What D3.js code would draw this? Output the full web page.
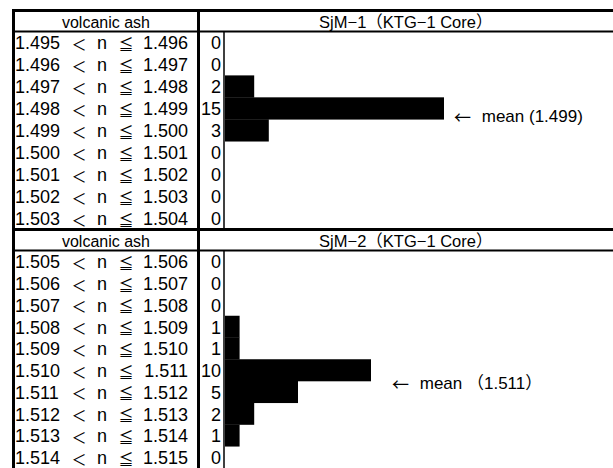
<!DOCTYPE html>
<html>
<head>
<meta charset="utf-8">
<script src="https://cdn.jsdelivr.net/npm/d3@7"></script>
<style>
  body { margin: 0; background: #fff; }
  svg text { font-family: "Liberation Sans", Arial, "Noto Sans CJK JP", sans-serif; fill: #000; }
  .cjk { font-family: "Noto Sans CJK JP", sans-serif; }
</style>
</head>
<body>
<div id="chart"></div>
<script>
var lowerEdges1 = ["1.495", "1.496", "1.497", "1.498", "1.499", "1.500", "1.501", "1.502", "1.503"];
var upperEdges1 = ["1.496", "1.497", "1.498", "1.499", "1.500", "1.501", "1.502", "1.503", "1.504"];
var counts1 = [0, 0, 2, 15, 3, 0, 0, 0, 0];

var lowerEdges2 = ["1.505", "1.506", "1.507", "1.508", "1.509", "1.510", "1.511", "1.512", "1.513", "1.514"];
var upperEdges2 = ["1.506", "1.507", "1.508", "1.509", "1.510", "1.511", "1.512", "1.513", "1.514", "1.515"];
var counts2 = [0, 0, 0, 1, 1, 10, 5, 2, 1, 0];

var titles = ["SjM−1（KTG−1 Core）", "SjM−2（KTG−1 Core）"];
var meanLabels = [" mean (1.499)", " mean （1.511）"];
var meanIndex = [3, 5];

var w = 613, h = 468;
var leftX = 13.5, divX = 198.5, baseX = 224, rightX = 613;

var svg = d3.select("#chart")
    .append("svg")
    .attr("width", w)
    .attr("height", h);

// shared count scale
var xScale = d3.scaleLinear()
    .domain([0, 15])
    .range([225, 444]);

function drawPanel(top, headerH, bottom, lows, ups, counts, title, meanLabel, mi, meanX, meanDy) {
  var rows = d3.range(counts.length);
  var yScale = d3.scaleBand()
      .domain(rows)
      .range([top + headerH, bottom])
      .padding(0);

  var g = svg.append("g");

  // header
  g.append("text")
      .attr("x", (leftX + divX) / 2)
      .attr("y", top + headerH / 2 + 1)
      .attr("text-anchor", "middle")
      .attr("dominant-baseline", "central")
      .style("font-size", "16px")
      .text("volcanic ash");

  g.append("text")
      .attr("x", (divX + rightX) / 2)
      .attr("y", top + headerH / 2 + 1)
      .attr("text-anchor", "middle")
      .attr("dominant-baseline", "central")
      .style("font-size", "16.5px")
      .text(title);

  // bars
  g.selectAll("rect.bar")
      .data(counts)
      .enter()
      .append("rect")
      .attr("class", "bar")
      .attr("x", xScale(0))
      .attr("y", function (d, i) { return yScale(i); })
      .attr("width", function (d) { return xScale(d) - xScale(0); })
      .attr("height", yScale.bandwidth() + 0.3)
      .attr("fill", "#000");

  // row labels
  var row = g.selectAll("g.row")
      .data(rows)
      .enter()
      .append("g")
      .attr("class", "row")
      .attr("transform", function (i) { return "translate(0," + (yScale(i) + yScale.bandwidth() / 2 + 1) + ")"; });

  row.append("text")
      .attr("x", 15)
      .attr("dominant-baseline", "central")
      .style("font-size", "18px")
      .text(function (i) { return lows[i]; });

  row.append("text")
      .attr("class", "cjk")
      .attr("x", 79)
      .attr("text-anchor", "middle")
      .attr("dominant-baseline", "central")
      .style("font-size", "15px")
      .text("＜");

  row.append("text")
      .attr("x", 102)
      .attr("text-anchor", "middle")
      .attr("dominant-baseline", "central")
      .style("font-size", "18px")
      .text("n");

  row.append("text")
      .attr("class", "cjk")
      .attr("x", 126)
      .attr("text-anchor", "middle")
      .attr("dominant-baseline", "central")
      .style("font-size", "15px")
      .text("≦");

  row.append("text")
      .attr("x", 188)
      .attr("text-anchor", "end")
      .attr("dominant-baseline", "central")
      .style("font-size", "18px")
      .text(function (i) { return ups[i]; });

  row.append("text")
      .attr("x", 221)
      .attr("text-anchor", "end")
      .attr("dominant-baseline", "central")
      .style("font-size", "18px")
      .text(function (i) { return counts[i]; });

  // mean note
  var note = g.append("text")
      .attr("x", meanX)
      .attr("y", yScale(mi) + yScale.bandwidth() + meanDy)
      .attr("dominant-baseline", "central")
      .style("font-size", "17px");
  note.append("tspan")
      .attr("class", "cjk")
      .text("←");
  note.append("tspan")
      .attr("dx", 6)
      .text(meanLabel);

  // grid lines
  g.append("line")
      .attr("x1", leftX).attr("x2", rightX)
      .attr("y1", top + headerH).attr("y2", top + headerH)
      .attr("stroke", "#000").attr("stroke-width", 2);

  g.append("line")
      .attr("x1", baseX).attr("x2", baseX)
      .attr("y1", top + headerH).attr("y2", bottom)
      .attr("stroke", "#000").attr("stroke-width", 1.5);
}

drawPanel(10.5, 21, 229, lowerEdges1, upperEdges1, counts1, titles[0], meanLabels[0], meanIndex[0], 454, -3.5);
drawPanel(229.5, 21, 468, lowerEdges2, upperEdges2, counts2, titles[1], meanLabels[1], meanIndex[1], 392, 2);

// thick frame lines
[10.5, 229.5].forEach(function (y) {
  svg.append("line")
      .attr("x1", leftX - 1.5).attr("x2", rightX)
      .attr("y1", y).attr("y2", y)
      .attr("stroke", "#000").attr("stroke-width", 3);
});

[leftX, divX].forEach(function (x) {
  svg.append("line")
      .attr("x1", x).attr("x2", x)
      .attr("y1", 9).attr("y2", h)
      .attr("stroke", "#000").attr("stroke-width", 3);
});
</script>
</body>
</html>
